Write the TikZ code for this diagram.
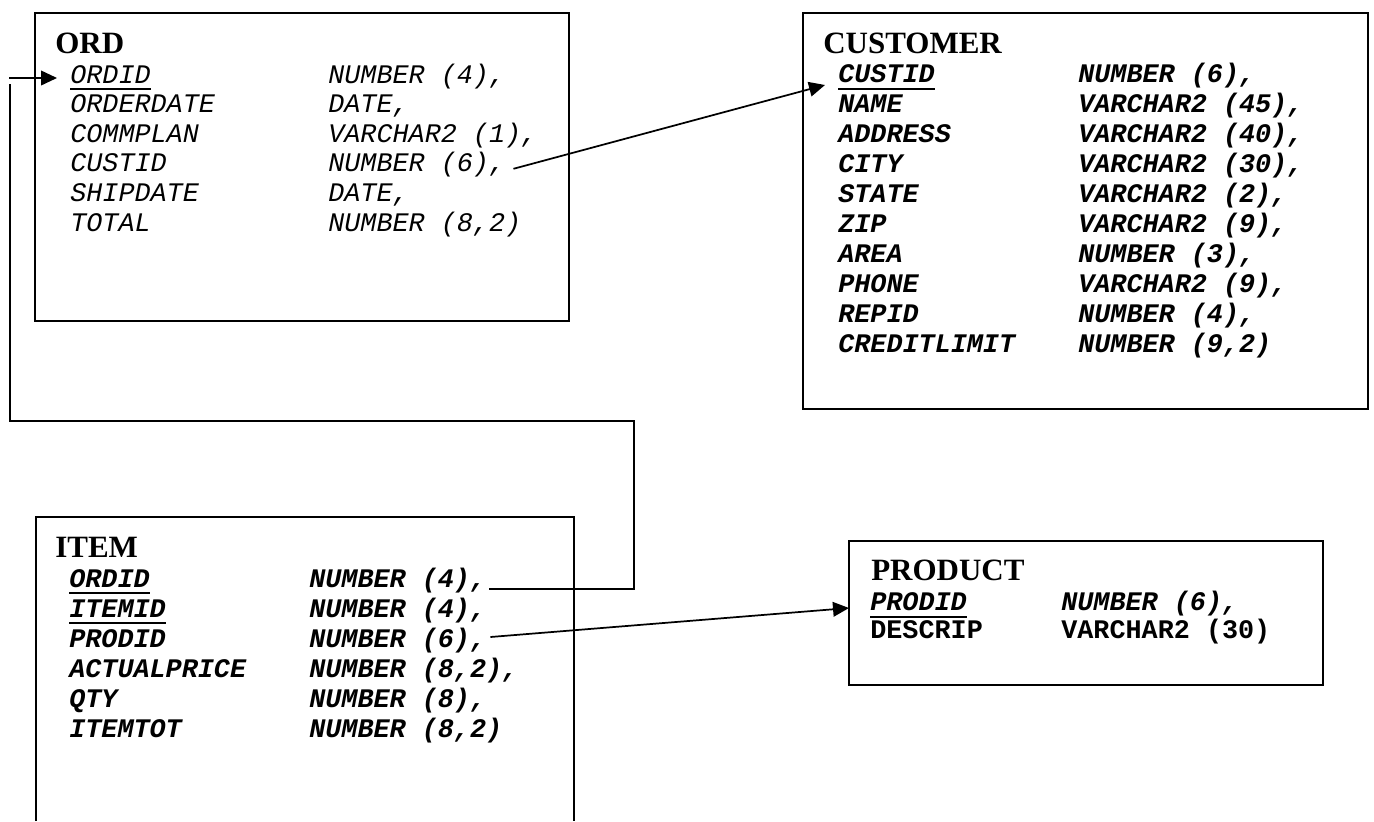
\documentclass[tikz,border=0pt]{standalone}
\usepackage{fontspec}
\setmainfont{Liberation Serif}
\setmonofont{Liberation Mono}
\usetikzlibrary{calc,arrows.meta}
\begin{document}
\begin{tikzpicture}[x=0.75pt,y=-0.75pt,
  box/.style={draw,line width=1.5pt},
  ttl/.style={anchor=base west,inner sep=0pt,font=\fontsize{23.25}{28}\selectfont\rmfamily\bfseries},
  fld/.style={anchor=base west,inner sep=0pt,font=\fontsize{20.1}{24}\selectfont\ttfamily\itshape},
  fldb/.style={anchor=base west,inner sep=0pt,font=\fontsize{20.1}{24}\selectfont\ttfamily\bfseries\itshape},
  fldu/.style={anchor=base west,inner sep=0pt,font=\fontsize{20.1}{24}\selectfont\ttfamily\bfseries},
  thinul/.style={line width=0.8pt},
  thickul/.style={line width=2.2pt},
  conn/.style={line width=1.3pt},
  arr/.style={conn,-{Triangle[length=12pt,width=11pt]}}]
\useasboundingbox (0,0) rectangle (1374,821);
\fill[white] (0,0) rectangle (1374,821);

% ---------- ORD ----------
\draw[box] (35,13) rectangle (569,321);
\node[ttl] (ordT) at (55,53) {ORD};
\node[fld] (o1) at (70,83) {ORDID};        \node[fld] (o1t) at (328,83) {NUMBER (4),};
\node[fld] (o2) at (70,112.6) {ORDERDATE}; \node[fld] (o2t) at (328,112.6) {DATE,};
\node[fld] (o3) at (70,142.2) {COMMPLAN};  \node[fld] (o3t) at (328,142.2) {VARCHAR2 (1),};
\node[fld] (o4) at (70,171.8) {CUSTID};    \node[fld] (o4t) at (328,171.8) {NUMBER (6),};
\node[fld] (o5) at (70,201.4) {SHIPDATE};  \node[fld] (o5t) at (328,201.4) {DATE,};
\node[fld] (o6) at (70,231) {TOTAL};       \node[fld] (o6t) at (328,231) {NUMBER (8,2)};
\draw[thinul] ($(o1.base west)+(0,6)$) -- ($(o1.base east)+(0,6)$);

% ---------- CUSTOMER ----------
\draw[box] (803,13) rectangle (1368,409);
\node[ttl] (cusT) at (823,53) {CUSTOMER};
\node[fldb] (c1) at (838,82) {CUSTID};       \node[fldb] (c1t) at (1078,82) {NUMBER (6),};
\node[fldb] (c2) at (838,112) {NAME};        \node[fldb] (c2t) at (1078,112) {VARCHAR2 (45),};
\node[fldb] (c3) at (838,142) {ADDRESS};     \node[fldb] (c3t) at (1078,142) {VARCHAR2 (40),};
\node[fldb] (c4) at (838,172) {CITY};        \node[fldb] (c4t) at (1078,172) {VARCHAR2 (30),};
\node[fldb] (c5) at (838,202) {STATE};       \node[fldb] (c5t) at (1078,202) {VARCHAR2 (2),};
\node[fldb] (c6) at (838,232) {ZIP};         \node[fldb] (c6t) at (1078,232) {VARCHAR2 (9),};
\node[fldb] (c7) at (838,262) {AREA};        \node[fldb] (c7t) at (1078,262) {NUMBER (3),};
\node[fldb] (c8) at (838,292) {PHONE};       \node[fldb] (c8t) at (1078,292) {VARCHAR2 (9),};
\node[fldb] (c9) at (838,322) {REPID};       \node[fldb] (c9t) at (1078,322) {NUMBER (4),};
\node[fldb] (c10) at (838,352) {CREDITLIMIT}; \node[fldb] (c10t) at (1078,352) {NUMBER (9,2)};
\draw[thickul] ($(c1.base west)+(0,7)$) -- ($(c1.base east)+(0,7)$);

% ---------- ITEM ----------
\draw[box] (36,821) -- (36,517) -- (574,517) -- (574,821);
\node[ttl] (itmT) at (55,557) {ITEM};
\node[fldb] (i1) at (69,587) {ORDID};       \node[fldb] (i1t) at (309,587) {NUMBER (4),};
\node[fldb] (i2) at (69,617) {ITEMID};      \node[fldb] (i2t) at (309,617) {NUMBER (4),};
\node[fldb] (i3) at (69,647) {PRODID};      \node[fldb] (i3t) at (309,647) {NUMBER (6),};
\node[fldb] (i4) at (69,677) {ACTUALPRICE}; \node[fldb] (i4t) at (309,677) {NUMBER (8,2),};
\node[fldb] (i5) at (69,707) {QTY};         \node[fldb] (i5t) at (309,707) {NUMBER (8),};
\node[fldb] (i6) at (69,737) {ITEMTOT};     \node[fldb] (i6t) at (309,737) {NUMBER (8,2)};
\draw[thickul] ($(i1.base west)+(0,6)$) -- ($(i1.base east)+(0,6)$);
\draw[thickul] ($(i2.base west)+(0,6)$) -- ($(i2.base east)+(0,6)$);

% ---------- PRODUCT ----------
\draw[box] (849,541) rectangle (1323,685);
\node[ttl] (prdT) at (871,580) {PRODUCT};
\node[fldb] (p1) at (870,610) {PRODID};   \node[fldb] (p1t) at (1061,610) {NUMBER (6),};
\node[fldu] (p2) at (870,638) {DESCRIP};  \node[fldu] (p2t) at (1061,638) {VARCHAR2 (30)};
\draw[thickul] ($(p1.base west)+(0,7)$) -- ($(p1.base east)+(0,7)$);

% ---------- connectors ----------
% ORD.CUSTID -> CUSTOMER.CUSTID
\draw[arr] ($(o4t.base east)+(8,-3)$) -- ($(c1.base west)+(-13,3)$);
% ITEM.ORDID -> ORD.ORDID
\coordinate (k1) at (634,421);
\coordinate (k2) at (10,421);
\coordinate (k3) at (10,84);
\coordinate (k4) at (9,78);
\draw[conn] ($(i1t.base east)+(3,2)$) -| (k1) -- (k2) -- (k3);
\draw[arr] (k4) -- ($(o1.base west)+(-13,-5)$);
% ITEM.PRODID -> PRODUCT.PRODID
\draw[arr] ($(i3t.base east)+(4,-10)$) -- ($(p1.base west)+(-21,-2)$);
\end{tikzpicture}
\end{document}
